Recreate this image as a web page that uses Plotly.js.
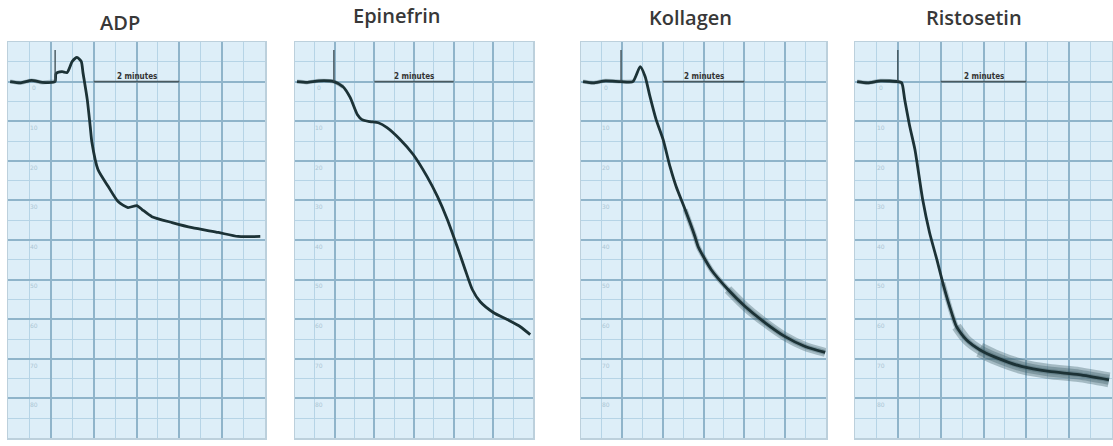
<!DOCTYPE html>
<html>
<head>
<meta charset="utf-8">
<script src="https://cdn.plot.ly/plotly-3.0.1.min.js"></script>
<style>html,body{margin:0;padding:0;background:#fff;}#chart{width:1113px;height:446px;}</style>
</head>
<body>
<div id="chart"></div>
<script>
// ---- Data (x: minutes from panel start, y: % aggregation, baseline = 0) ----
const panelTitles = ['ADP', 'Epinefrin', 'Kollagen', 'Ristosetin'];
const scaleLabel = '2 minutes';
const startMinutes = [1.10, 0.98, 0.98, 1.00];
const scaleTickValues = [0, 10, 20, 30, 40, 50, 60, 70, 80];
const scaleTickLabels = ['0', '10', '20', '30', '40', '50', '60', '70', '80'];

const adpX = [0.05, 0.30, 0.55, 0.80, 1.10, 1.12, 1.26, 1.38, 1.50, 1.61, 1.71, 1.75, 1.85, 1.92, 1.96, 2.10, 2.34, 2.57, 2.80, 3.01, 3.13, 3.36, 3.83, 4.30, 4.91, 5.37, 5.89];
const adpY = [0, 0.3, -0.3, 0.2, 0, -2.0, -2.5, -2.3, -5.1, -6.1, -5.1, -2.3, 4.5, 11.4, 15.4, 22.2, 26.5, 30.3, 31.8, 31.3, 32.3, 34.1, 35.6, 36.9, 38.1, 39.1, 39.1];

const epiX = [0.05, 0.30, 0.60, 0.98, 1.21, 1.39, 1.57, 1.69, 1.89, 2.10, 2.32, 2.65, 2.98, 3.33, 3.59, 3.84, 4.09, 4.29, 4.47, 4.67, 5.00, 5.35, 5.68, 5.93];
const epiY = [0, 0.2, -0.2, 0, 1.3, 4.0, 8.3, 9.6, 10.1, 10.4, 11.6, 14.6, 18.4, 24.0, 29.0, 34.8, 41.7, 47.5, 52.5, 55.6, 58.3, 60.1, 61.9, 63.9];

const kolX = [0.05, 0.30, 0.60, 0.98, 1.27, 1.45, 1.57, 1.69, 1.84, 2.01, 2.18, 2.33, 2.55, 2.79, 2.87, 3.19, 3.60, 4.02, 4.51, 5.00, 5.49, 5.98];
const kolY = [0, 0.3, -0.2, 0, 0, -3.8, -1.3, 3.8, 9.6, 14.6, 21.5, 26.5, 32.3, 39.1, 41.7, 47.5, 52.5, 56.8, 60.9, 64.4, 66.9, 68.4];

const risX = [0.05, 0.30, 0.60, 1.00, 1.09, 1.16, 1.28, 1.40, 1.58, 1.74, 1.91, 2.05, 2.21, 2.37, 2.60, 2.91, 3.30, 3.91, 4.53, 5.23, 5.93];
const risY = [0, 0.3, -0.2, 0, 0.3, 4.5, 11.4, 17.2, 29.8, 38.1, 44.9, 50.8, 56.8, 61.9, 65.2, 67.7, 69.7, 72.0, 73.2, 74.0, 75.3];

const seriesX = [adpX, epiX, kolX, risX];
const seriesY = [adpY, epiY, kolY, risY];
// noisy-band styling: [fromIndex, width] layers, drawn under the trace
const bandLayers = [
  [[0, 4, 5]],
  [[0, 4, 5]],
  [[0, 4, 5], [12, 5], [16, 9]],
  [[0, 4, 5], [11, 5], [13, 10], [15, 15]]
];

// ---- Layout geometry (pixels in the 1113x446 picture) ----
const W = 1113, H = 446;
const panelPx = [[8, 265], [295, 533], [581, 826], [855, 1112]];
const panelTop = 42, panelBottom = 438;
const titlePos = [[120, 22], [397, 16], [690, 17], [974, 17]];

const paperBg = '#ddeef8';
const majorGrid = '#8fb4ca';
const minorGrid = '#b6d4e6';
const inkColor = '#1c3236';

const traces = [];
const layout = {
  width: W, height: H,
  margin: {l: 0, r: 0, t: 0, b: 0},
  paper_bgcolor: '#ffffff',
  plot_bgcolor: paperBg,
  showlegend: false,
  annotations: [],
  shapes: []
};

for (let i = 0; i < 4; i++) {
  const n = i === 0 ? '' : String(i + 1);
  const xa = 'x' + n, ya = 'y' + n;
  layout['xaxis' + n] = {
    domain: [panelPx[i][0] / W, panelPx[i][1] / W],
    range: [0, 6], tick0: 0, dtick: 1,
    showgrid: true, gridcolor: majorGrid, gridwidth: 2,
    minor: {dtick: 0.5, showgrid: true, gridcolor: minorGrid, gridwidth: 1},
    showticklabels: false, ticks: '', zeroline: false,
    showline: true, linecolor: '#bcd0dc', linewidth: 1.5, mirror: true,
    anchor: ya, fixedrange: true
  };
  layout['yaxis' + n] = {
    domain: [1 - panelBottom / H, 1 - panelTop / H],
    range: [90, -10], tick0: 0, dtick: 10,
    showgrid: true, gridcolor: majorGrid, gridwidth: 2,
    minor: {dtick: 5, showgrid: true, gridcolor: minorGrid, gridwidth: 1},
    showticklabels: false, ticks: '', zeroline: false,
    showline: true, linecolor: '#bcd0dc', linewidth: 1.5, mirror: true,
    anchor: xa, fixedrange: true
  };

  // noisy band layers under the trace
  bandLayers[i].forEach(function (b) {
    const from = b[0], width = b[1], to = b.length > 2 ? b[2] : seriesX[i].length;
    traces.push({
      type: 'scatter', mode: 'lines', xaxis: xa, yaxis: ya,
      x: seriesX[i].slice(from, to), y: seriesY[i].slice(from, to),
      line: {color: '#3a5a60', width: width, shape: 'spline', smoothing: 0.6},
      opacity: 0.35, hoverinfo: 'skip'
    });
  });
  // main trace
  traces.push({
    type: 'scatter', mode: 'lines', xaxis: xa, yaxis: ya,
    x: seriesX[i], y: seriesY[i], name: panelTitles[i],
    line: {color: inkColor, width: 2.8, shape: 'spline', smoothing: 0.6}
  });

  // title
  layout.annotations.push({
    xref: 'paper', yref: 'paper',
    x: titlePos[i][0] / W, y: 1 - titlePos[i][1] / H,
    xanchor: 'center', yanchor: 'middle', showarrow: false,
    text: panelTitles[i],
    font: {family: 'Open Sans, Noto Sans, sans-serif', size: 20, color: '#383838', weight: 600}
  });
  // "2 minutes" scale text + underline
  layout.annotations.push({
    xref: xa, yref: ya, x: 3, y: 0, xanchor: 'center', yanchor: 'bottom',
    showarrow: false, text: scaleLabel, yshift: -1,
    font: {family: 'DejaVu Sans Condensed, DejaVu Sans, sans-serif', size: 8, color: '#333', weight: 700}
  });
  layout.shapes.push({
    type: 'line', xref: xa, yref: ya, x0: 2, x1: 4, y0: 0, y1: 0,
    line: {color: '#4a5a60', width: 1.6}
  });
  // agonist start marker
  layout.shapes.push({
    type: 'line', xref: xa, yref: ya, x0: startMinutes[i], x1: startMinutes[i], y0: -8, y1: 0,
    line: {color: '#3a4a50', width: 1.3}
  });
  // faint printed scale on the paper
  for (let k = 0; k < scaleTickValues.length; k++) {
    layout.annotations.push({
      xref: xa, yref: ya, x: 0.6, y: scaleTickValues[k] + 1.6,
      xanchor: 'center', yanchor: 'middle', showarrow: false,
      text: scaleTickLabels[k],
      font: {family: 'DejaVu Sans, sans-serif', size: 6, color: '#abc6d5'}
    });
  }
}

Plotly.newPlot('chart', traces, layout, {staticPlot: true, displayModeBar: false});
</script>
</body>
</html>
